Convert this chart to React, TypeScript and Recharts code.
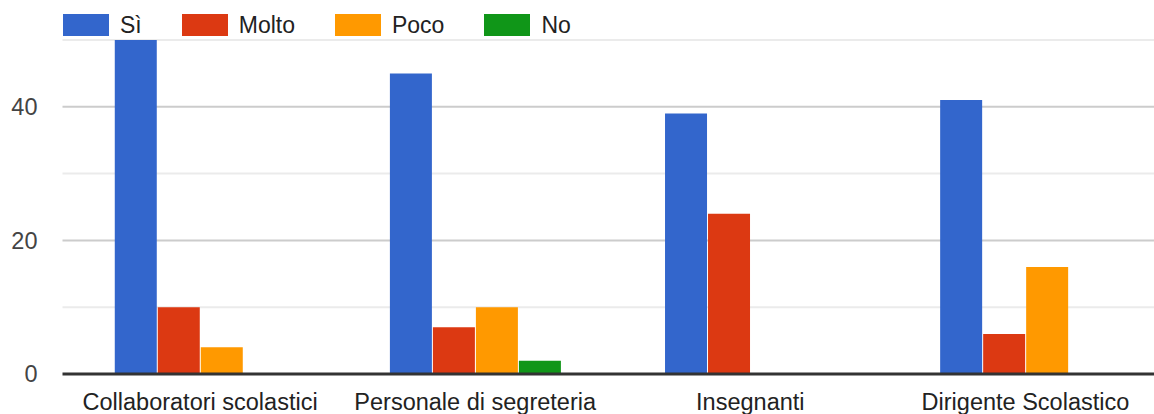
import React from 'react';
import { BarChart, Bar, XAxis, YAxis, CartesianGrid } from 'recharts';

const CATEGORIES = ['Collaboratori scolastici', 'Personale di segreteria', 'Insegnanti', 'Dirigente Scolastico'];
const SI = [50, 45, 39, 41];
const MOLTO = [10, 7, 24, 6];
const POCO = [4, 10, 0, 16];
const NO = [0, 2, 0, 0];
const SERIES = ['Sì', 'Molto', 'Poco', 'No'];
const COLORS = ['#3366cc', '#dc3912', '#ff9900', '#109618'];
const Y_TICKS = [0, 20, 40];
const MAJOR_GRID = [20, 40];
const MINOR_GRID = [10, 30, 50];

const data = CATEGORIES.map((name, i) => ({
  name,
  'Sì': SI[i],
  Molto: MOLTO[i],
  Poco: POCO[i],
  No: NO[i],
}));

const FONT = '"Liberation Sans", Arial, sans-serif';

export default function App() {
  return (
    <div style={{ position: 'fixed', left: 0, top: 0, width: 1154, height: 414, overflow: 'hidden', background: '#fff', fontFamily: FONT }}>
      <BarChart
        width={1163}
        height={414}
        data={data}
        margin={{ top: 40, right: 0, left: 0, bottom: 0 }}
        barGap={1}
        barCategoryGap="19%"
      >
        <CartesianGrid vertical={false} horizontalValues={MINOR_GRID} stroke="#ebebeb" strokeWidth={2} />
        <CartesianGrid vertical={false} horizontalValues={MAJOR_GRID} stroke="#cccccc" strokeWidth={2} />
        <YAxis
          domain={[0, 50]}
          ticks={Y_TICKS}
          width={62.5}
          axisLine={false}
          tickLine={false}
          tickSize={0}
          tickMargin={25}
          tick={{ fill: '#444', fontSize: 23.5, fontFamily: FONT }}
        />
        <XAxis
          dataKey="name"
          height={40}
          axisLine={{ stroke: '#333', strokeWidth: 3 }}
          tickLine={false}
          tickSize={0}
          tickMargin={19}
          interval={0}
          tick={{ fill: '#222', fontSize: 23.5, fontFamily: FONT }}
        />
        {SERIES.map((s, i) => (
          <Bar key={s} dataKey={s} fill={COLORS[i]} isAnimationActive={false} />
        ))}
      </BarChart>
      <div style={{ position: 'absolute', left: 63, top: 14, display: 'flex', alignItems: 'center', height: 22 }}>
        {SERIES.map((s, i) => (
          <div key={s} style={{ display: 'flex', alignItems: 'center', marginRight: 40 }}>
            <div style={{ width: 46, height: 22, background: COLORS[i], marginRight: 11 }} />
            <span style={{ fontSize: 23, color: '#222', lineHeight: '22px' }}>{s}</span>
          </div>
        ))}
      </div>
    </div>
  );
}
